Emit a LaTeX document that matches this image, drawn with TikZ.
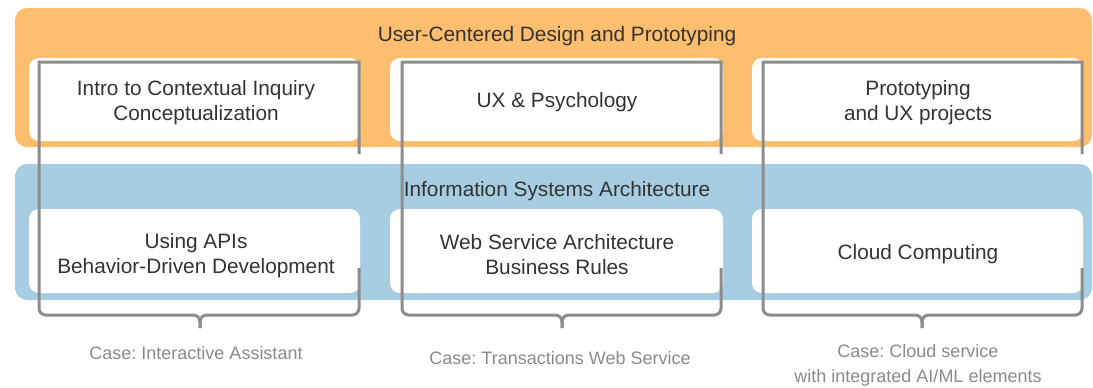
\documentclass[tikz,border=0pt]{standalone}
\usepackage{fontspec}
\setmainfont{Liberation Sans}
\frenchspacing
\definecolor{bandorange}{HTML}{FDBE6F}
\definecolor{bandblue}{HTML}{A6CDE1}
\definecolor{brk}{HTML}{8C8C8C}
\definecolor{txt}{HTML}{333333}
\definecolor{capc}{HTML}{8A8A8A}
\begin{document}
\begin{tikzpicture}[x=0.75pt,y=-0.75pt,
  band/.style={rounded corners=9pt},
  whitebox/.style={fill=white,rounded corners=7.5pt},
  lbl/.style={text=txt,font=\fontsize{15.6}{18.75}\selectfont,align=center,inner sep=0pt},
  capt/.style={text=capc,font=\frenchspacing\fontsize{13.5}{18.75}\selectfont,align=center,inner sep=0pt},
  bracket/.style={draw=brk,line width=2.25pt}
]
\useasboundingbox (0,0) rectangle (1093,387);
\fill[bandorange,band] (15,8) rectangle (1092,147);
\fill[bandblue,band] (15,164) rectangle (1092,300);
\foreach \a/\b in {29/360,390/723,752/1083}{
  \fill[whitebox] (\a,58) rectangle (\b,141);
  \fill[whitebox] (\a,209) rectangle (\b,293);
}
\node[lbl] (title1) at (557,36) {User-Centered Design and Prototyping};
\node[lbl] (title2) at (557,191) {Information Systems Architecture};
\node[lbl] (t1) at (196,103) {Intro to Contextual Inquiry\\Conceptualization};
\node[lbl] (t2) at (557,102) {UX \& Psychology};
\node[lbl] (t3) at (918,103) {Prototyping\\and UX projects};
\node[lbl] (b1) at (196,256) {Using APIs\\Behavior-Driven Development};
\node[lbl] (b2) at (557,255) {Web Service Architecture\\Business Rules};
\node[lbl] (b3) at (918,254) {Cloud Computing};
\node[capt] (c1) at (196,353) {Case: Interactive Assistant};
\node[capt] (c2) at (560,358) {Case: Transactions Web Service};
\node[capt] (c3) at (918,365.5) {Case: Cloud service\\with integrated AI/ML elements};
\foreach \l/\r/\c in {39/359/200,402/721/562,763/1082/922}{
  \draw[bracket] (\r,154) -- (\r,62) -- (\l,62) -- (\l,200)
    [rounded corners=5pt] -- (\l,315) -- (\c,315) -- (\c,328);
  \draw[bracket,rounded corners=5pt] (\r,268) -- (\r,315) -- (\c,315) -- (\c,328);
}
\end{tikzpicture}
\end{document}
